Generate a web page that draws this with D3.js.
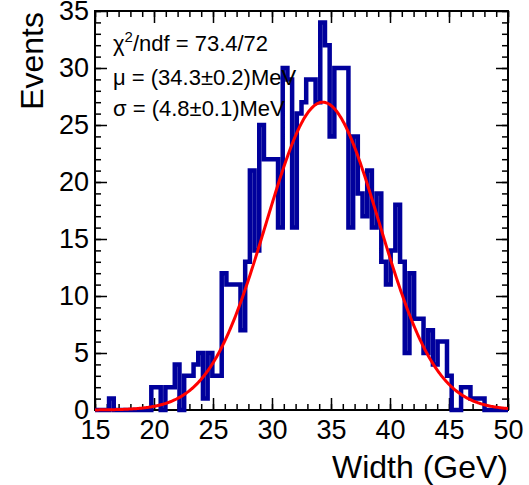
<!DOCTYPE html>
<html>
<head>
<meta charset="utf-8">
<script src="https://cdn.jsdelivr.net/npm/d3@7/dist/d3.min.js"></script>
<style>
  html, body { margin: 0; padding: 0; background: #fff; }
  svg { display: block; font-family: "Liberation Sans", Arial, Helvetica, sans-serif; }
</style>
</head>
<body>
<svg id="chart"></svg>
<script>
// Width distribution, 88 equal bins between 15 and 50 GeV
const xRange = [15, 50];
const yRange = [0, 35];
const counts = [
  0, 0, 0, 1, 0, 0, 0, 0, 0, 0, 0, 0,
  2, 2, 0, 2, 2, 4, 0, 3, 3, 4, 5, 1,
  5, 3, 3, 12, 11, 11, 11, 7, 13, 21, 14, 25,
  22, 22, 22, 16, 30, 29, 16, 26, 27, 29, 29, 27,
  34, 32, 24, 30, 30, 30, 16, 24, 19, 17, 21, 16,
  19, 13, 11, 14, 18, 13, 5, 12, 8, 8, 5, 7,
  4, 6, 6, 3, 0, 0, 2, 2, 1, 1, 1, 0,
  0, 0, 0, 0
];

// gaussian fit result
const fitMean = 34.3;
const fitSigma = 4.8;
const fitPeak = 27;

const xMajorTicks = [15, 20, 25, 30, 35, 40, 45, 50];
const yMajorTicks = [0, 5, 10, 15, 20, 25, 30, 35];
const xTitle = 'Width (GeV)';
const yTitle = 'Events';

const width = 529;
const height = 485;
const margin = { top: 11, right: 21, bottom: 75, left: 95 };
const innerW = width - margin.left - margin.right;
const innerH = height - margin.top - margin.bottom;

const histColor = '#00009c';
const fitColor = '#ff0000';

const svg = d3.select('#chart')
  .attr('width', width)
  .attr('height', height);

const g = svg.append('g')
  .attr('transform', `translate(${margin.left},${margin.top})`);

const x = d3.scaleLinear().domain(xRange).range([0, innerW]);
const y = d3.scaleLinear().domain(yRange).range([innerH, 0]);

// frame
g.append('rect')
  .attr('width', innerW)
  .attr('height', innerH)
  .attr('fill', 'none')
  .attr('stroke', '#000')
  .attr('stroke-width', 2);

// ticks, ROOT style: pointing inwards on all four sides
function drawAxis(axis, transform, labels) {
  const a = g.append('g')
    .attr('transform', transform)
    .call(axis);
  a.select('.domain').remove();
  a.selectAll('.tick line').attr('stroke', '#000').attr('stroke-width', 1.5);
  if (!labels) {
    a.selectAll('.tick text').remove();
  } else {
    a.selectAll('.tick text')
      .attr('fill', '#000')
      .attr('font-size', 27)
      .attr('font-family', '"Liberation Sans", Arial, sans-serif');
  }
  return a;
}

const xMinor = d3.range(xRange[0], xRange[1] + 0.5, 1);
const yMinor = d3.range(yRange[0], yRange[1] + 0.5, 1);

drawAxis(d3.axisBottom(x).tickValues(xMinor).tickSize(-6), `translate(0,${innerH})`, false);
drawAxis(d3.axisBottom(x).tickValues(xMajorTicks).tickSize(-12).tickPadding(10), `translate(0,${innerH})`, true);
drawAxis(d3.axisTop(x).tickValues(xMinor).tickSize(-6), 'translate(0,0)', false);
drawAxis(d3.axisTop(x).tickValues(xMajorTicks).tickSize(-12), 'translate(0,0)', false);
drawAxis(d3.axisLeft(y).tickValues(yMinor).tickSize(-6), 'translate(0,0)', false);
drawAxis(d3.axisLeft(y).tickValues(yMajorTicks).tickSize(-12).tickPadding(6), 'translate(0,0)', true);
drawAxis(d3.axisRight(y).tickValues(yMinor).tickSize(-6), `translate(${innerW},0)`, false);
drawAxis(d3.axisRight(y).tickValues(yMajorTicks).tickSize(-12), `translate(${innerW},0)`, false);

// histogram outline as steps
const binW = (xRange[1] - xRange[0]) / counts.length;
const steps = [];
counts.forEach((c, i) => {
  const lo = xRange[0] + i * binW;
  steps.push([lo, c], [lo + binW, c]);
});

g.append('path')
  .datum(steps)
  .attr('fill', 'none')
  .attr('stroke', histColor)
  .attr('stroke-width', 4.5)
  .attr('stroke-linejoin', 'miter')
  .attr('d', d3.line().x(d => x(d[0])).y(d => y(d[1])));

// fitted gaussian
const fitPts = d3.range(0, 401).map(i => {
  const xv = xRange[0] + i * (xRange[1] - xRange[0]) / 400;
  return [xv, fitPeak * Math.exp(-0.5 * ((xv - fitMean) / fitSigma) ** 2)];
});

g.append('path')
  .datum(fitPts)
  .attr('fill', 'none')
  .attr('stroke', fitColor)
  .attr('stroke-width', 3)
  .attr('d', d3.line().x(d => x(d[0])).y(d => y(d[1])));

// fit statistics
const stat = g.append('g')
  .attr('font-size', 22)
  .attr('fill', '#000');

const chi = stat.append('text').attr('x', 18).attr('y', 40);
chi.append('tspan').text('\u03c7');
chi.append('tspan').attr('font-size', 15).attr('dy', -9).text('2');
chi.append('tspan').attr('dy', 9).text('/ndf = 73.4/72');

stat.append('text').attr('x', 18).attr('y', 74)
  .text('\u03bc = (34.3\u00b10.2)MeV');
stat.append('text').attr('x', 18).attr('y', 105)
  .text('\u03c3 = (4.8\u00b10.1)MeV');

// axis titles
svg.append('text')
  .attr('x', margin.left + innerW)
  .attr('y', 478)
  .attr('text-anchor', 'end')
  .attr('font-size', 32)
  .text(xTitle);

svg.append('text')
  .attr('transform', `translate(43,${margin.top + 1}) rotate(-90)`)
  .attr('text-anchor', 'end')
  .attr('font-size', 32)
  .text(yTitle);
</script>
</body>
</html>
